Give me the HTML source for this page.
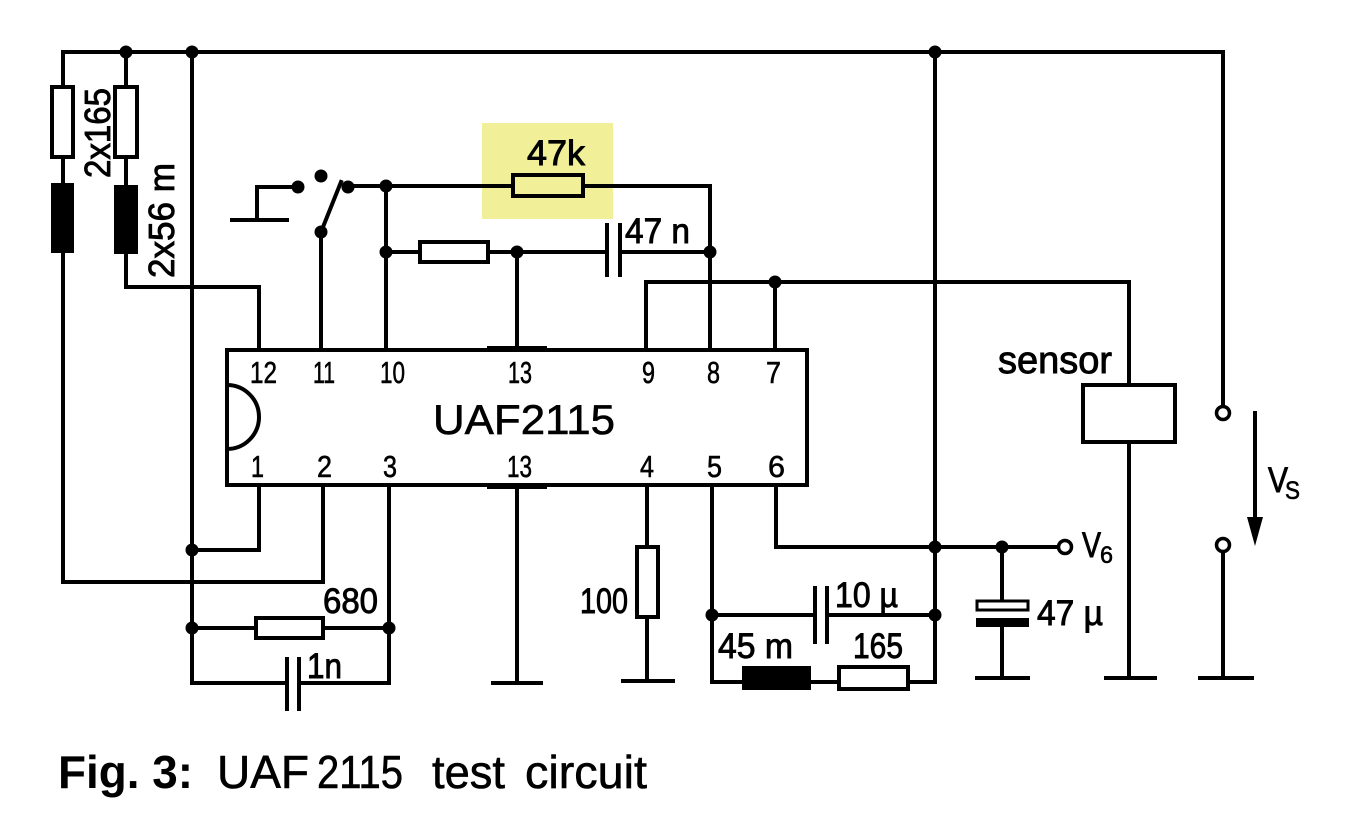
<!DOCTYPE html>
<html>
<head>
<meta charset="utf-8">
<style>
  html, body { margin:0; padding:0; background:#fff; }
  body { width:1358px; height:824px; overflow:hidden; }
  svg { display:block; }
  text { font-family: "Liberation Sans", "DejaVu Sans", sans-serif; fill:#000; }
  .lb { stroke:#000; stroke-width:0.9; }
  .lbs { stroke:#000; stroke-width:0.6; }
</style>
</head>
<body>
<svg width="1358" height="824" viewBox="0 0 1358 824" xmlns="http://www.w3.org/2000/svg">
  <!-- yellow highlight -->
  <rect x="482" y="123" width="131" height="96" fill="#f1ef97"/>

  <g stroke="#000" stroke-width="4" fill="none" stroke-linecap="square">
    <!-- top rail -->
    <polyline points="63,87 63,52 1223,52 1223,406"/>
    <!-- left branch -->
    <line x1="63" y1="157" x2="63" y2="183"/>
    <polyline points="63,253 63,582 323,582 323,485"/>
    <!-- second branch -->
    <line x1="126" y1="52" x2="126" y2="87"/>
    <line x1="126" y1="157" x2="126" y2="185"/>
    <polyline points="126,254 126,287 259,287 259,350"/>
    <!-- third vertical -->
    <polyline points="192,52 192,683 287,683"/>
    <polyline points="299,683 389,683 389,485"/>
    <!-- pin1 -->
    <polyline points="259,485 259,550 192,550"/>
    <!-- 680 resistor line -->
    <line x1="192" y1="628" x2="256" y2="628"/>
    <line x1="323" y1="628" x2="389" y2="628"/>

    <!-- switch -->
    <line x1="232" y1="220" x2="287" y2="220"/>
    <polyline points="257,220 257,187 298,187"/>
    <line x1="321" y1="232" x2="341" y2="182"/>
    <line x1="321" y1="232" x2="321" y2="350"/>
    <line x1="348" y1="186" x2="513" y2="186"/>
    <polyline points="583,186 710,186 710,350"/>
    <!-- pin 10 -->
    <line x1="386" y1="186" x2="386" y2="350"/>
    <!-- resistor row y=252 -->
    <line x1="386" y1="252" x2="420" y2="252"/>
    <line x1="488" y1="252" x2="607" y2="252"/>
    <line x1="620" y1="252" x2="710" y2="252"/>
    <line x1="517" y1="252" x2="517" y2="350"/>
    <!-- 47n cap plates -->
    <line x1="607" y1="225" x2="607" y2="275"/>
    <line x1="620" y1="225" x2="620" y2="275"/>

    <!-- pin 9 / 7 / sensor -->
    <polyline points="646,350 646,282 1129,282 1129,385"/>
    <line x1="775" y1="282" x2="775" y2="350"/>
    <rect x="1083" y="385" width="92" height="57"/>
    <line x1="1129" y1="442" x2="1129" y2="678"/>
    <line x1="1106" y1="678" x2="1155" y2="678"/>

    <!-- right supply -->
    <line x1="1223" y1="552" x2="1223" y2="678"/>
    <line x1="1200" y1="678" x2="1252" y2="678"/>
    <line x1="1255" y1="413" x2="1255" y2="522"/>

    <!-- chip -->
    <rect x="227" y="350" width="580" height="135"/>
    <path d="M227,385 A32,32 0 0 1 227,449"/>

    <!-- bottom pins -->
    <polyline points="517,485 517,683"/>
    <line x1="493" y1="683" x2="541" y2="683"/>
    <line x1="647" y1="485" x2="647" y2="547"/>
    <line x1="647" y1="617" x2="647" y2="681"/>
    <line x1="623" y1="681" x2="673" y2="681"/>
    <!-- pin 5 -->
    <polyline points="712,485 712,682 742,682"/>
    <line x1="811" y1="682" x2="839" y2="682"/>
    <polyline points="908,682 935,682 935,52"/>
    <line x1="712" y1="615" x2="815" y2="615"/>
    <line x1="827" y1="615" x2="935" y2="615"/>
    <line x1="815" y1="588" x2="815" y2="642"/>
    <line x1="827" y1="588" x2="827" y2="642"/>
    <!-- pin 6 / V6 -->
    <polyline points="776,485 776,547 1058,547"/>
    <line x1="1002" y1="547" x2="1002" y2="601"/>
    <line x1="1002" y1="627" x2="1002" y2="678"/>
    <line x1="977" y1="678" x2="1028" y2="678"/>
    <!-- 1n cap plates -->
    <line x1="287" y1="659" x2="287" y2="709"/>
    <line x1="299" y1="659" x2="299" y2="709"/>
  </g>

  <!-- resistors (white boxes) -->
  <g stroke="#000" stroke-width="4" fill="#fff">
    <rect x="52" y="87" width="21" height="70"/>
    <rect x="115" y="87" width="22" height="70"/>
    <rect x="513" y="175" width="70" height="21" fill="none"/>
    <rect x="420" y="242" width="68" height="20"/>
    <rect x="256" y="618" width="67" height="20"/>
    <rect x="637" y="547" width="21" height="70"/>
    <rect x="839" y="667" width="69" height="22"/>
    <rect x="977" y="601" width="51" height="9" stroke-width="3"/>
  </g>

  <!-- solid parts -->
  <g fill="#000">
    <rect x="51" y="183" width="23" height="70"/>
    <rect x="114" y="185" width="24" height="69"/>
    <rect x="742" y="666" width="69" height="24"/>
    <rect x="976" y="618" width="53" height="9"/>
    <rect x="487" y="346" width="60" height="6"/>
    <rect x="487" y="483" width="60" height="6"/>
    <polygon points="1247,517 1263,517 1255,546"/>
    <!-- nodes -->
    <circle cx="126" cy="52" r="6.5"/>
    <circle cx="192" cy="52" r="6.5"/>
    <circle cx="935" cy="52" r="6.5"/>
    <circle cx="298" cy="187" r="6.5"/>
    <circle cx="321" cy="176" r="6.5"/>
    <circle cx="348" cy="187" r="6.5"/>
    <circle cx="321" cy="232" r="6.5"/>
    <circle cx="386" cy="186" r="6.5"/>
    <circle cx="386" cy="252" r="6.5"/>
    <circle cx="517" cy="252" r="6.5"/>
    <circle cx="710" cy="252" r="6.5"/>
    <circle cx="775" cy="282" r="6.5"/>
    <circle cx="192" cy="550" r="6.5"/>
    <circle cx="192" cy="628" r="6.5"/>
    <circle cx="389" cy="628" r="6.5"/>
    <circle cx="712" cy="615" r="6.5"/>
    <circle cx="935" cy="615" r="6.5"/>
    <circle cx="935" cy="547" r="6.5"/>
    <circle cx="1002" cy="547" r="6.5"/>
  </g>

  <!-- open terminals -->
  <g stroke="#000" stroke-width="3.5" fill="#fff">
    <circle cx="1065" cy="547" r="6.5"/>
    <circle cx="1223" cy="413" r="6.5"/>
    <circle cx="1223" cy="545" r="6.5"/>
  </g>

  <!-- labels -->
  <g font-size="31" class="lbs">
    <text x="250" y="383" textLength="27" lengthAdjust="spacingAndGlyphs">12</text>
    <text x="313" y="383" textLength="22" lengthAdjust="spacingAndGlyphs">11</text>
    <text x="380" y="383" textLength="25" lengthAdjust="spacingAndGlyphs">10</text>
    <text x="508" y="383" textLength="24" lengthAdjust="spacingAndGlyphs">13</text>
    <text x="642" y="383" textLength="13" lengthAdjust="spacingAndGlyphs">9</text>
    <text x="707" y="383" textLength="13" lengthAdjust="spacingAndGlyphs">8</text>
    <text x="766" y="383" textLength="15" lengthAdjust="spacingAndGlyphs">7</text>

    <text x="251" y="477" textLength="13" lengthAdjust="spacingAndGlyphs">1</text>
    <text x="317" y="477" textLength="15" lengthAdjust="spacingAndGlyphs">2</text>
    <text x="383" y="477" textLength="14" lengthAdjust="spacingAndGlyphs">3</text>
    <text x="507" y="477" textLength="25" lengthAdjust="spacingAndGlyphs">13</text>
    <text x="640" y="477" textLength="14" lengthAdjust="spacingAndGlyphs">4</text>
    <text x="707" y="477" textLength="15" lengthAdjust="spacingAndGlyphs">5</text>
    <text x="768" y="477" textLength="17" lengthAdjust="spacingAndGlyphs">6</text>
  </g>

  <text x="433" y="434" font-size="42" class="lbs" textLength="182" lengthAdjust="spacingAndGlyphs">UAF2115</text>

  <g font-size="35" class="lb">
    <text x="527" y="165" textLength="58" lengthAdjust="spacingAndGlyphs">47k</text>
    <text x="625" y="243" textLength="65" lengthAdjust="spacingAndGlyphs">47 n</text>
    <text x="323" y="613" textLength="55" lengthAdjust="spacingAndGlyphs">680</text>
    <text x="307" y="678" textLength="35" lengthAdjust="spacingAndGlyphs">1n</text>
    <text x="580" y="613" textLength="48" lengthAdjust="spacingAndGlyphs">100</text>
    <text x="835" y="607" textLength="63" lengthAdjust="spacingAndGlyphs">10 µ</text>
    <text x="718" y="658" textLength="75" lengthAdjust="spacingAndGlyphs">45 m</text>
    <text x="853" y="658" textLength="50" lengthAdjust="spacingAndGlyphs">165</text>
    <text x="1037" y="625" textLength="66" lengthAdjust="spacingAndGlyphs">47 µ</text>
    <text x="1082" y="557" textLength="19" lengthAdjust="spacingAndGlyphs">V</text>
    <text x="1268" y="492" textLength="20" lengthAdjust="spacingAndGlyphs">V</text>
  </g>
  <text x="1100" y="563" font-size="24" class="lbs" textLength="13" lengthAdjust="spacingAndGlyphs">6</text>
  <text x="1285" y="499" font-size="25" class="lbs" textLength="15" lengthAdjust="spacingAndGlyphs">S</text>

  <text x="998" y="373" font-size="38" class="lb" textLength="114" lengthAdjust="spacingAndGlyphs">sensor</text>

  <text transform="translate(110,178) rotate(-90)" font-size="36" class="lb" textLength="90" lengthAdjust="spacingAndGlyphs">2x165</text>
  <text transform="translate(174,278) rotate(-90)" font-size="36" class="lb" textLength="115" lengthAdjust="spacingAndGlyphs">2x56 m</text>

  <!-- caption -->
  <text x="58" y="788" font-size="46" font-weight="bold" textLength="135" lengthAdjust="spacingAndGlyphs">Fig. 3:</text>
  <text x="217" y="788" font-size="46" class="lbs" textLength="92" lengthAdjust="spacingAndGlyphs">UAF</text>
  <text x="317" y="788" font-size="46" class="lbs" textLength="86" lengthAdjust="spacingAndGlyphs">2115</text>
  <text x="432" y="788" font-size="46" class="lbs" textLength="73" lengthAdjust="spacingAndGlyphs">test</text>
  <text x="525" y="788" font-size="46" class="lbs" textLength="122" lengthAdjust="spacingAndGlyphs">circuit</text>
</svg>
</body>
</html>
